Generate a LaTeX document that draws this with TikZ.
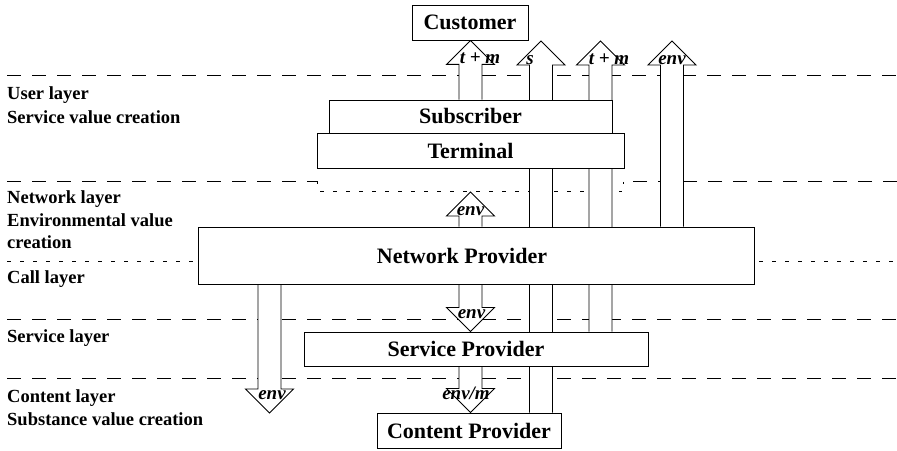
\documentclass[tikz,border=0pt]{standalone}
\usepackage{fontspec}
\setmainfont{Liberation Serif}
\usetikzlibrary{calc}
\pgfdeclarelayer{rules}
\pgfdeclarelayer{flows}
\pgfsetlayers{rules,flows,main}

% block arrow pointing up: #1 x of the shaft axis, #2 tail anchor, #3 tip anchor, #4 label, #5 label shift
\newcommand\blockup[5]{%
  \path (#1,0 |- #2) coordinate (tl) (#1,0 |- #3) coordinate (tp);
  \draw[barrow] ($(tl)+(-11.5,0)$) -- ($(tp)+(-11.5,-24)$) -- ($(tp)+(-24,-24)$) -- (tp)
     -- ($(tp)+(24,-24)$) -- ($(tp)+(11.5,-24)$) -- ($(tl)+(11.5,0)$);
  \node[alab, anchor=base] at ($(tp)+(#5,-23.5)$) {#4};
}
% block arrow pointing down
\newcommand\blockdown[5]{%
  \path (#1,0 |- #2) coordinate (tl) (#1,0 |- #3) coordinate (tp);
  \draw[barrow] ($(tl)+(-11.5,0)$) -- ($(tp)+(-11.5,24)$) -- ($(tp)+(-24,24)$) -- (tp)
     -- ($(tp)+(24,24)$) -- ($(tp)+(11.5,24)$) -- ($(tl)+(11.5,0)$);
  \node[alab, anchor=base] at ($(tp)+(#5,13.5)$) {#4};
}

\tikzset{
  box/.style={draw, fill=white, line width=0.9pt, inner sep=0pt,
              font=\bfseries\fontsize{22}{26}\selectfont},
  layertext/.style={anchor=base west, inner sep=0pt,
              font=\bfseries\fontsize{18.5}{22}\selectfont},
  sepline/.style={line width=0.8pt, dash pattern=on 14pt off 11pt},
  fineline/.style={line width=0.8pt, dash pattern=on 4pt off 9pt},
  barrow/.style={draw, fill=white, line width=0.9pt, line join=miter},
  alab/.style={inner sep=0pt, font=\bfseries\itshape\fontsize{19}{21}\selectfont},
}

\begin{document}
\begin{tikzpicture}[x=1pt,y=1pt]
\useasboundingbox (0,0) rectangle (897,450);

% actors
\node[box, minimum width=116pt, minimum height=35pt] (cust) at (470,427.5) {Customer};
\node[box, minimum width=283pt, minimum height=33pt] (subs) at (470.5,333.5) {Subscriber};
\node[box, minimum width=307pt, minimum height=35pt] (term) at (470.5,299.5) {Terminal};
\node[box, minimum width=556pt, minimum height=57pt] (netw) at (476,194.5) {Network Provider\hspace*{28pt}};
\node[box, minimum width=344pt, minimum height=34pt] (serv) at (476,101) {Service Provider\hspace*{20pt}};
\node[box, minimum width=184pt, minimum height=35pt] (cont) at (469,19.5) {Content Provider};

% levels where free arrow tips end
\coordinate (toplevel) at (0,409);
\coordinate (dotlevel) at (0,258);
\coordinate (lowlevel) at (0,37);

% layer boundaries
\begin{pgfonlayer}{rules}
  \draw[sepline] (7,375) -- (897,375);
  \draw[sepline] (7,269) -- (317,269) -- (317,266);
  \draw[sepline] (897,269) -- (623,269) -- (623,266);
  \draw[fineline] (320,259) -- (622,259);
  \draw[fineline] (7,189) -- (netw.west |- 0,189);
  \draw[fineline] (759,189) -- (897,189);
  \draw[sepline] (7,131) -- (897,131);
  \draw[sepline] (7,72) -- (897,72);
\end{pgfonlayer}

% value flows
\begin{pgfonlayer}{flows}
  \blockup{470.5}{subs.north}{cust.south}{t + m}{9.5}
  \blockup{541}{cont.north}{toplevel}{s}{-11}
  \blockup{600.5}{serv.north}{toplevel}{t + m}{8.5}
  \blockup{672}{netw.north}{toplevel}{env}{0}
  \blockup{470.5}{netw.north}{dotlevel}{env}{0}
  \blockdown{269.5}{netw.south}{lowlevel}{env}{2.5}
  \blockdown{470.5}{netw.south}{serv.north}{env}{1}
  \blockdown{470.5}{serv.south}{cont.north}{env/m}{-4.5}
\end{pgfonlayer}

% layer names
\node[layertext] (ul)  at (7,350)   {User layer};
\node[layertext] (uv)  at (7,326.5) {Service value creation};
\node[layertext] (nl)  at (7,246)   {Network layer};
\node[layertext] (nv1) at (7,223)   {Environmental value};
\node[layertext] (nv2) at (7,201)   {creation};
\node[layertext] (cl)  at (7,166)   {Call layer};
\node[layertext] (sl)  at (7,107)   {Service layer};
\node[layertext] (tl1) at (7,48)    {Content layer};
\node[layertext] (tl2) at (7,24)    {Substance value creation};
\end{tikzpicture}
\end{document}
